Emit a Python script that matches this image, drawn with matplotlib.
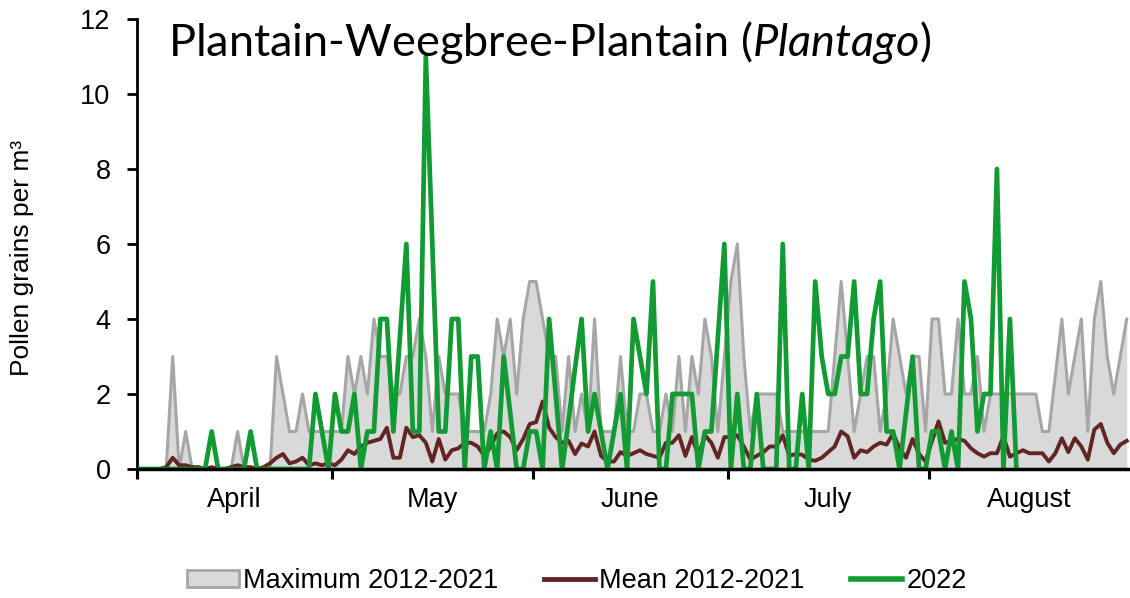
import numpy as np
import matplotlib.pyplot as plt
from matplotlib.patches import Patch
from matplotlib.lines import Line2D

# daily values, 1 April (index 0) to 31 August (index 152)
maximum = [0, 0, 0, 0, 0, 3, 0, 1, 0, 0,
           0, 0, 0, 0, 0, 1, 0, 0, 0, 0,
           0, 3, 2, 1, 1, 2, 1, 1, 1, 1,
           1, 1, 3, 2, 3, 2, 4, 3, 3, 2,
           2, 3, 3, 4, 3, 1, 3, 2, 2, 2,
           1, 1, 1, 1, 2, 4, 3, 4, 2, 4,
           5, 5, 4, 3, 3, 1, 3, 1, 2, 1,
           4, 1, 1, 1, 3, 1, 1, 2, 2, 1,
           1, 2, 1, 3, 1, 3, 2, 4, 3, 1,
           3, 5, 6, 3, 1, 2, 2, 2, 2, 1,
           1, 1, 1, 1, 1, 1, 1, 3, 5, 3,
           1, 2, 3, 3, 1, 2, 4, 3, 2, 3,
           3, 1, 4, 4, 2, 2, 4, 2, 2, 3,
           1, 2, 2, 2, 2, 2, 2, 2, 2, 1,
           1, 2.5, 4, 2, 3, 4, 1, 4, 5, 3,
           2, 3, 4]

mean = [0, 0, 0, 0, 0.05, 0.3, 0.1, 0.1, 0.05, 0.05,
        0, 0.05, 0, 0, 0.05, 0.1, 0.05, 0.05, 0, 0.05,
        0.15, 0.3, 0.4, 0.15, 0.2, 0.3, 0.1, 0.15, 0.1, 0.15,
        0.1, 0.25, 0.5, 0.4, 0.6, 0.7, 0.75, 0.8, 1.1, 0.3,
        0.3, 1.1, 0.85, 0.9, 0.7, 0.2, 0.8, 0.25, 0.5, 0.55,
        0.7, 0.7, 0.6, 0.35, 0.6, 0.95, 1.0, 0.85, 0.5, 0.8,
        1.2, 1.25, 1.8, 1.1, 0.85, 0.7, 0.75, 0.4, 0.68, 0.6,
        1.0, 0.35, 0.2, 0.2, 0.45, 0.35, 0.42, 0.5, 0.4, 0.35,
        0.3, 0.7, 0.7, 0.9, 0.35, 0.85, 0.35, 0.9, 0.7, 0.3,
        0.85, 0.85, 0.9, 0.6, 0.25, 0.35, 0.45, 0.6, 0.6, 0.9,
        0.35, 0.4, 0.38, 0.25, 0.22, 0.3, 0.45, 0.6, 1.0, 0.87,
        0.3, 0.5, 0.45, 0.6, 0.7, 0.65, 0.95, 0.55, 0.3, 0.8,
        0.4, 0.2, 0.75, 1.27, 0.7, 0.75, 0.8, 0.75, 0.55, 0.42,
        0.33, 0.42, 0.42, 0.87, 0.33, 0.42, 0.5, 0.42, 0.42, 0.42,
        0.2, 0.42, 0.82, 0.45, 0.82, 0.6, 0.25, 1.05, 1.2, 0.7,
        0.42, 0.65, 0.75]

y2022 = [0, 0, 0, 0, 0, 0, 0, 0, 0, 0,
         0, 1, 0, 0, 0, 0, 0, 1, 0, 0,
         0, 0, 0, 0, 0, 0, 0, 2, 1, 0,
         2, 1, 1, 2, 0, 1, 1, 4, 4, 1,
         3.5, 6, 1, 1, 11, 6, 1, 1, 4, 4,
         0, 3, 3, 0, 1, 0, 3, 1.5, 0, 0,
         1, 1, 0, 4, 2, 0, 1.3, 2.7, 4, 1,
         2, 1, 0, 1, 2, 0, 4, 3, 2, 5,
         0, 0, 2, 2, 2, 2, 0, 1, 1, 3.5,
         6, 0, 2, 0, 0, 2, 0, 0, 0, 6,
         0, 0, 2, 0, 5, 3, 2, 2, 3, 3,
         5, 2, 2, 4, 5, 1, 1, 0, 1.5, 3,
         0, 0, 1, 1, 0, 1, 0, 5, 4, 1,
         2, 2, 8, 0, 4, 0]

months = ['April', 'May', 'June', 'July', 'August']
month_days = [30, 31, 30, 31, 31]

plt.rcParams['font.family'] = 'Liberation Sans'
plt.rcParams['mathtext.fontset'] = 'custom'
plt.rcParams['mathtext.rm'] = 'Lato'
plt.rcParams['mathtext.it'] = 'Lato:italic'

c_max_fill = '#d9d9d9'
c_max_line = '#a6a6a6'
c_mean = '#632523'
c_green = '#119b32'

fig = plt.figure(figsize=(11.3, 5.98), dpi=100)
ax = fig.add_axes([137 / 1130, 1 - 469 / 598, 993 / 1130, 450 / 598])

x = np.arange(len(maximum)) + 0.5
ax.fill_between(x, 0, maximum, color=c_max_fill, lw=0, zorder=1)
ax.plot(x, maximum, color=c_max_line, lw=2.2, zorder=2)
ax.plot(x, mean, color=c_mean, lw=2.8, zorder=3)
ax.plot(x[:len(y2022)], y2022, color=c_green, lw=3.4, zorder=4)

ax.set_xlim(0, sum(month_days))
ax.set_ylim(0, 12)
ax.set_yticks(range(0, 13, 2))

bounds = np.concatenate([[0], np.cumsum(month_days)])
ax.set_xticks(bounds[:-1])
ax.set_xticklabels([])
ax.set_xticks(bounds[:-1] + np.array(month_days) / 2, minor=True)
ax.set_xticklabels(months, minor=True)
ax.tick_params(axis='x', which='major', direction='out', length=7, width=2.2)
ax.tick_params(axis='x', which='minor', length=0, pad=13, labelsize=19.5)
ax.tick_params(axis='y', direction='out', length=7, width=2, pad=12, labelsize=19.5)

for s in ['top', 'right']:
    ax.spines[s].set_visible(False)
ax.spines['left'].set_linewidth(2)
ax.spines['bottom'].set_linewidth(2.5)
ax.spines['bottom'].set_zorder(5)

fig.text(22 / 1130, 1 - 258 / 598, 'Pollen grains per m³', rotation=90,
         ha='center', va='center', fontsize=19)

fig.text(168 / 1130, 1 - 43 / 598, 'Plantain-Weegbree-Plantain ($\\mathit{Plantago}$)',
         fontfamily='Lato', fontsize=32.5, ha='left', va='center')

handles = [Patch(facecolor=c_max_fill, edgecolor=c_max_line, linewidth=2),
           Line2D([], [], color=c_mean, lw=3.5),
           Line2D([], [], color=c_green, lw=4)]
labels = ['Maximum 2012-2021', 'Mean 2012-2021', '2022']
fig.legend(handles, labels, loc='center', bbox_to_anchor=(577 / 1130, 1 - 581 / 598),
           ncol=3, frameon=False, fontsize=19.5, handlelength=1.9,
           handleheight=0.6, handletextpad=0.15, columnspacing=1.7)

fig.savefig('out.png', dpi=100)
